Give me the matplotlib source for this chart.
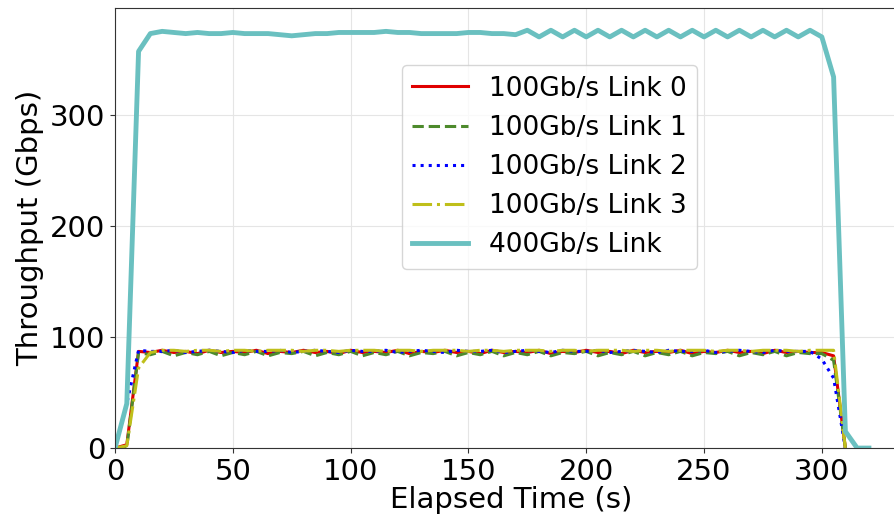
import matplotlib
matplotlib.use("Agg")
import matplotlib.pyplot as plt

# sample times (s)
T_100G = list(range(0, 315, 5))
T_400G = list(range(0, 325, 5))

LINK0 = [0, 3, 87, 86, 88, 86, 87, 85, 88, 86,
         87, 86, 88, 85, 87, 86, 88, 86, 87, 85,
         88, 86, 87, 86, 88, 85, 87, 86, 88, 86,
         87, 85, 88, 86, 87, 86, 88, 85, 87, 86,
         88, 86, 87, 85, 88, 86, 87, 86, 88, 85,
         87, 86, 88, 86, 87, 85, 88, 86, 87, 86,
         86, 83, 0]
LINK1 = [0, 1, 86, 84, 87, 83, 86, 84, 87, 83,
         86, 84, 87, 83, 86, 85, 87, 83, 86, 84,
         87, 83, 86, 84, 87, 83, 86, 85, 87, 83,
         86, 84, 87, 83, 86, 84, 87, 83, 86, 85,
         87, 83, 86, 84, 87, 83, 86, 84, 87, 83,
         86, 85, 87, 83, 86, 84, 87, 83, 86, 85,
         85, 79, 0]
LINK2 = [0, 40, 88, 87, 87, 88, 86, 87, 88, 87,
         86, 88, 87, 87, 88, 86, 87, 88, 87, 86,
         88, 87, 87, 88, 86, 87, 88, 87, 86, 88,
         87, 87, 88, 86, 87, 88, 87, 86, 88, 87,
         87, 88, 86, 87, 88, 87, 86, 88, 87, 87,
         88, 86, 87, 88, 87, 86, 88, 87, 87, 87,
         80, 63, 0]
LINK3 = [0, 2, 72, 86, 88, 88, 87, 88, 88, 87,
         88, 88, 87, 88, 88, 88, 87, 88, 88, 87,
         88, 88, 88, 87, 88, 88, 87, 88, 88, 88,
         87, 88, 88, 87, 88, 88, 88, 87, 88, 88,
         87, 88, 88, 88, 87, 88, 88, 87, 88, 88,
         88, 87, 88, 88, 87, 88, 88, 88, 87, 88,
         88, 88, 0]
LINK400 = [0, 40, 357, 373, 375, 374, 373, 374, 373, 373,
           374, 373, 373, 373, 372, 371, 372, 373, 373, 374,
           374, 374, 374, 375, 374, 374, 373, 373, 373, 373,
           374, 374, 373, 373, 372, 376, 370, 376, 370, 376,
           370, 376, 370, 376, 370, 376, 370, 376, 370, 376,
           370, 376, 370, 376, 370, 376, 370, 376, 370, 376,
           370, 334, 15, 0, 0]

SERIES = [
    (T_100G, LINK0, "100Gb/s Link 0", "#e00000", "-", 2.2),
    (T_100G, LINK1, "100Gb/s Link 1", "#4d8a2c", "--", 2.2),
    (T_100G, LINK2, "100Gb/s Link 2", "#0000ff", ":", 2.2),
    (T_100G, LINK3, "100Gb/s Link 3", "#bfbf1a", "-.", 2.2),
    (T_400G, LINK400, "400Gb/s Link", "#6ac0c0", "-", 3.5),
]

fig = plt.figure(figsize=(8.95, 5.18), dpi=100)
ax = fig.add_axes([0.1285, 0.135, 0.8845, 0.8495])
for t, y, name, color, ls, lw in SERIES:
    ax.plot(t, y, ls=ls, lw=lw, color=color, label=name)

ax.set_xlim(0, 336)
ax.set_ylim(0, 396)
ax.set_xticks([0, 50, 100, 150, 200, 250, 300])
ax.set_yticks([0, 100, 200, 300])
ax.tick_params(labelsize=21, color="#333333")
ax.grid(True, color="#e5e5e5", lw=0.8)
ax.set_axisbelow(True)
for s in ax.spines.values():
    s.set_color("#333333")
ax.set_xlabel("Elapsed Time (s)", fontsize=21, labelpad=0)
ax.set_ylabel("Throughput (Gbps)", fontsize=21)

ax.legend(loc="upper left", bbox_to_anchor=(0.449, 0.8745), bbox_transform=fig.transFigure,
          borderaxespad=0, fontsize=19, handlelength=2.1)

fig.savefig("out.png", dpi=100)
